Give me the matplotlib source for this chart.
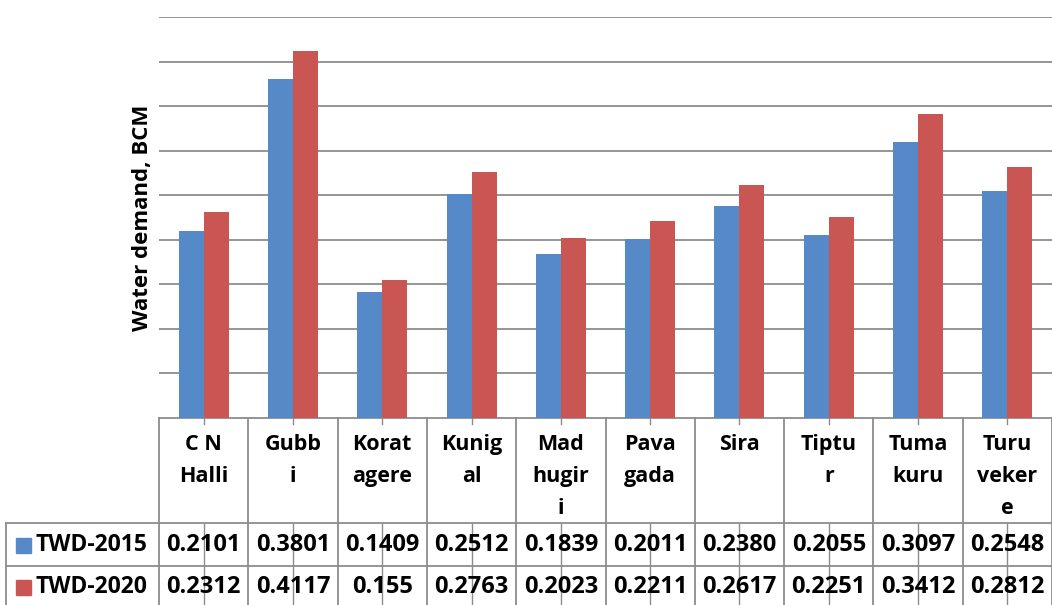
import matplotlib
matplotlib.use("Agg")
import matplotlib.pyplot as plt
import numpy as np

labels = ["C N\nHalli", "Gubb\ni", "Korat\nagere", "Kunig\nal", "Mad\nhugir\ni",
          "Pava\ngada", "Sira", "Tiptu\nr", "Tuma\nkuru", "Turu\nveker\ne"]
twd_2015 = [0.2101, 0.3801, 0.1409, 0.2512, 0.1839, 0.2011, 0.2380, 0.2055, 0.3097, 0.2548]
twd_2020 = [0.2312, 0.4117, 0.155, 0.2763, 0.2023, 0.2211, 0.2617, 0.2251, 0.3412, 0.2812]
row_text_2015 = ["0.2101", "0.3801", "0.1409", "0.2512", "0.1839", "0.2011", "0.2380", "0.2055", "0.3097", "0.2548"]
row_text_2020 = ["0.2312", "0.4117", "0.155", "0.2763", "0.2023", "0.2211", "0.2617", "0.2251", "0.3412", "0.2812"]
series = ["TWD-2015", "TWD-2020"]
colors = ["#5689C8", "#C95653"]

plt.rcParams['font.family'] = ['Open Sans', 'DejaVu Sans']
W, H = 1052, 605
fig = plt.figure(figsize=(W / 100, H / 100), dpi=100)

L = 159 / W
ax = fig.add_axes([L, 1 - 418 / H, 1 - L, (418 - 17) / H])
x = np.arange(len(labels))
bw = 0.28
ax.bar(x - bw / 2, twd_2015, bw, color=colors[0], zorder=3)
ax.bar(x + bw / 2, twd_2020, bw, color=colors[1], zorder=3)
ax.set_xlim(-0.5, len(labels) - 0.5)
ax.set_ylim(0, 0.45)
ax.set_yticks(np.arange(0.05, 0.451, 0.05))
ax.yaxis.grid(True, color="#8C8C8C", linewidth=1.3, zorder=0)
ax.tick_params(axis='y', length=0, labelleft=False)
ax.set_xticks([])
for s in ["top", "right", "left"]:
    ax.spines[s].set_visible(False)
ax.spines["bottom"].set_color("#8C8C8C")
ax.spines["bottom"].set_linewidth(1.3)
ax.set_ylabel("Water demand, BCM", fontsize=16, fontweight="bold", labelpad=4)

# data table below the plot, y in pixel rows of the figure
tx = fig.add_axes([L, 0, 1 - L, (H - 418) / H])
tx.set_xlim(ax.get_xlim())
tx.set_ylim(H, 418)
tx.axis("off")
gc = "#8C8C8C"
u = (W - 159) / len(labels)
xl = -0.5 - (159 - 6) / u   # left border of row labels
kw = dict(color=gc, linewidth=1.3, clip_on=False)
for b in np.arange(-0.5, len(labels), 1.0):
    tx.plot([b, b], [418, H], **kw)
tx.plot([xl, len(labels)], [523, 523], **kw)
tx.plot([xl, len(labels)], [566, 566], **kw)
tx.plot([xl, xl], [523, H], **kw)
for i in x:
    tx.plot([i, i], [418, 424], color=gc, linewidth=1, clip_on=False)
    tx.plot([i, i], [524, H], color=gc, linewidth=1, clip_on=False)
    tx.text(i, 434, labels[i], ha="center", va="top", fontsize=15.5,
            fontweight="bold", linespacing=1.68)
    tx.text(i, 545, row_text_2015[i], ha="center", va="center", fontsize=17,
            fontweight="bold")
    tx.text(i, 587, row_text_2020[i], ha="center", va="center", fontsize=17,
            fontweight="bold")

for name, c, yc in zip(series, colors, [545, 587]):
    x0 = -0.5 - (159 - 16) / u
    tx.add_patch(plt.Rectangle((x0, yc - 7), 15 / u, 15, color=c, clip_on=False))
    tx.text(-0.5 - (159 - 36) / u, yc, name, ha="left", va="center", fontsize=16.5,
            fontweight="bold", clip_on=False)

fig.savefig("out.png", dpi=100)
